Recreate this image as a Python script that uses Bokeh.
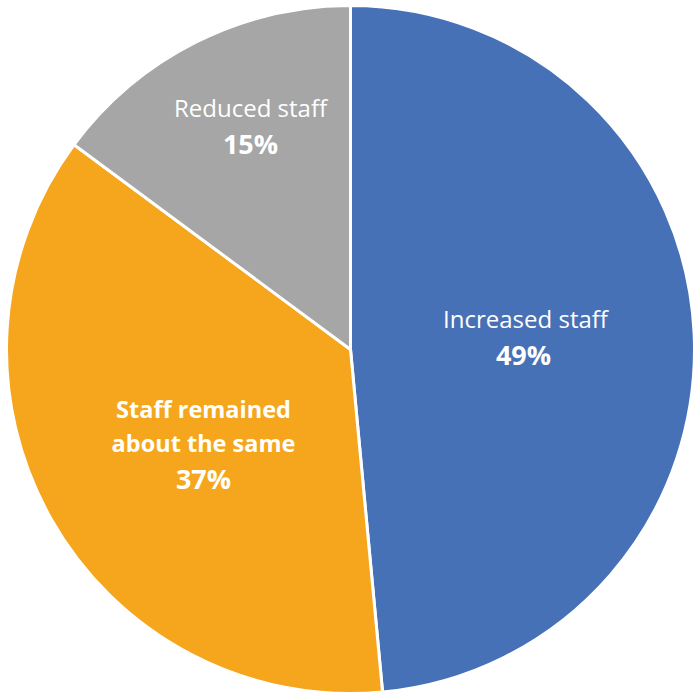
import numpy as np
from bokeh.plotting import figure
from bokeh.models import ColumnDataSource, Range1d
from bokeh.core.properties import value
from bokeh.embed import file_html
from bokeh.resources import INLINE

# Share of respondents by staffing change
categories = ["Increased staff", "Staff remained about the same", "Reduced staff"]
shares = [49, 37, 15]
colors = ["#4771B7", "#F6A61D", "#A5A6A5"]

# Slices run clockwise from 12 o'clock
vals = np.array(shares, dtype=float)
fractions = vals / vals.sum()
ends = np.cumsum(fractions) * 2 * np.pi
starts = ends - fractions * 2 * np.pi
start_angle = np.pi / 2 - starts
end_angle = np.pi / 2 - ends

cx, cy, r = 350, 351, 344

src = ColumnDataSource(dict(start=start_angle, end=end_angle, color=colors))

p = figure(width=700, height=700, output_backend="svg", toolbar_location=None,
           x_range=Range1d(0, 700), y_range=Range1d(0, 700), min_border=0)
p.axis.visible = False
p.grid.visible = False
p.outline_line_color = None
p.background_fill_color = "white"

p.wedge(x=cx, y=cy, radius=r, start_angle="start", end_angle="end",
        direction="clock", fill_color="color", line_color="white",
        line_width=3, source=src)

font = value("Open Sans")

# Slice labels: name lines then bold percentage
def label(x, y, text, bold, size):
    p.text(x=[x], y=[y], text=[text], text_font=font,
           text_font_size=size, text_font_style="bold" if bold else "normal",
           text_color="white", text_align="center", text_baseline="middle")

# Increased staff
label(525, 700 - 318, categories[0], False, "24px")
label(523, 700 - 354, f"{shares[0]}%", True, "27px")
# Staff remained about the same
label(203, 700 - 408, "Staff remained", True, "23.5px")
label(203, 700 - 442, "about the same", True, "23.5px")
label(203, 700 - 478, f"{shares[1]}%", True, "27px")
# Reduced staff
label(250, 700 - 107, categories[2], False, "24px")
label(250, 700 - 143, f"{shares[2]}%", True, "27px")

open("out.html", "w").write(file_html(p, INLINE))
